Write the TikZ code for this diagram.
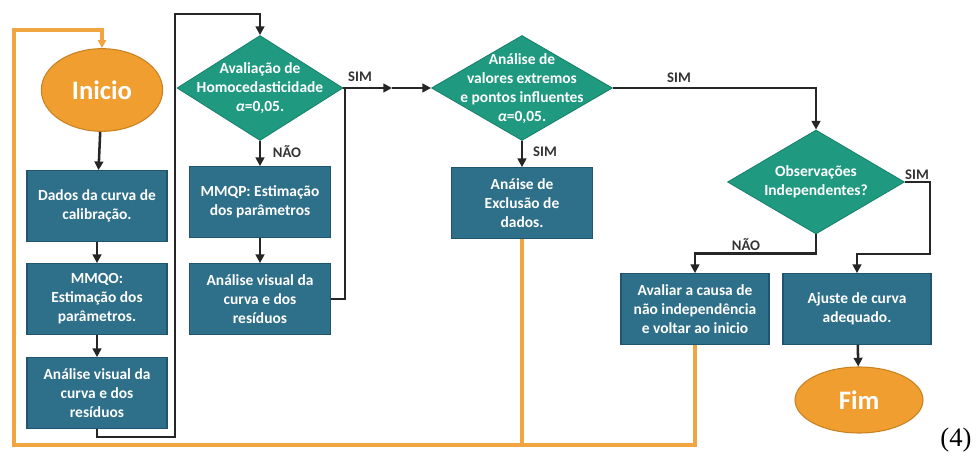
\documentclass[tikz,border=0pt]{standalone}
\usepackage{fontspec}
\setmainfont{Carlito}
\newfontfamily\serifnum{Liberation Serif}
\usetikzlibrary{shapes.geometric,arrows.meta}
\definecolor{boxblue}{HTML}{2E6F8A}
\definecolor{boxedge}{HTML}{1F5570}
\definecolor{dteal}{HTML}{1F9A80}
\definecolor{dedge}{HTML}{17806A}
\definecolor{eorange}{HTML}{F09E30}
\definecolor{eedge}{HTML}{C98222}
\definecolor{loopc}{HTML}{F0A540}
\definecolor{lbl}{HTML}{333333}

\begin{document}
\begin{tikzpicture}[x=0.75pt,y=-0.75pt]
\tikzstyle{every node}+=[font=\fontsize{11.6}{14.25}\selectfont\bfseries]
\tikzstyle{procbox}=[draw=boxedge,fill=boxblue,text=white,line width=0.8pt,minimum height=53pt,inner sep=0pt,align=center]
\tikzstyle{decision}=[diamond,draw=dedge,fill=dteal,line width=0.6pt,inner sep=0pt]
\tikzstyle{dtext}=[text=white,align=center,inner sep=0pt]
\tikzstyle{terminal}=[ellipse,draw=eedge,fill=eorange,text=white,line width=0.8pt,font=\fontsize{20}{22}\selectfont\bfseries]
\tikzstyle{flow}=[draw=black!85,line width=1.9pt,-{Triangle[length=6.5pt,width=6.5pt]}]
\tikzstyle{link}=[draw=black!85,line width=1.9pt]
\tikzstyle{back}=[draw=loopc,line width=2.6pt]
\tikzstyle{tag}=[text=lbl,font=\fontsize{11}{12}\selectfont\bfseries]

\useasboundingbox (0,0) rectangle (979,459);

% coluna 1
\node[terminal,minimum width=91pt,minimum height=62pt] (ini) at (102,90) {Inicio};
\node[procbox,minimum width=105pt] (dados) at (97,206) {Dados da curva de\\calibração.};
\node[procbox,minimum width=105pt] (mmqo) at (97,299) {MMQO:\\Estimação dos\\parâmetros.};
\node[procbox,minimum width=105pt] (vis1) at (97,393) {Análise visual da\\curva e dos\\resíduos};

% coluna 2
\node[decision,minimum width=124.5pt,minimum height=78.75pt] (homo) at (260,88) {};
\node[dtext] (homot) at (260,88) {Avaliação de\\Homocedasticidade\\\textit{α}=0,05.};
\node[procbox,minimum width=106pt] (mmqp) at (260,202) {MMQP: Estimação\\dos parâmetros};
\node[procbox,minimum width=106pt] (vis2) at (260,299) {Análise visual da\\curva e dos\\resíduos};

% coluna 3
\node[decision,minimum width=135.75pt,minimum height=78.75pt] (extr) at (522,88) {};
\node[dtext] (extrt) at (522,89) {Análise de\\valores extremos\\e pontos influentes\\\textit{α}=0,05.};
\node[procbox,minimum width=106pt] (excl) at (522,203) {Anáise de\\Exclusão de\\dados.};

% coluna 4
\node[decision,minimum width=132.75pt,minimum height=78pt] (indep) at (816,182) {};
\node[dtext] (indept) at (816,182) {Observações\\Independentes?};
\node[procbox,minimum width=111pt] (aval) at (695,309) {Avaliar a causa de\\não independência\\e voltar ao inicio};
\node[procbox,minimum width=111pt] (ajuste) at (857,309) {Ajuste de curva\\adequado.};
\node[terminal,minimum width=96pt,minimum height=49.5pt] (fim) at (859,400) {Fim};

\node[font=\serifnum\fontsize{20}{22}\selectfont] (num) at (956,440) {(4)};

\coordinate (o1) at (14,445);
\coordinate (o2) at (14,30);
\coordinate (l1) at (175,437);
\coordinate (t1) at (175,14);
\coordinate (j1) at (345,88);
\coordinate (m1) at (392,88);
\coordinate (r3) at (930,254);

% retorno ao inicio
\draw[back] (excl.south) -- (excl.south |- o1);
\draw[back,-{Triangle[length=6pt,width=6pt]}] (aval.south) |- (o1) -- (o2) -| (ini.north);

% fluxo
\draw[flow] (ini) -- (dados);
\draw[flow] (dados) -- (mmqo);
\draw[flow] (mmqo) -- (vis1);
\draw[flow] (vis1.south) |- (l1) -- (t1) -| (homo.north);
\draw[flow] (homo) -- (mmqp);
\draw[flow] (mmqp) -- (vis2);
\draw[link] (vis2.east) -| (j1);
\draw[link] (homo.east) -- (j1);
\draw[flow] (j1) -- (m1);
\draw[flow] (m1) -- (extr.west);
\draw[flow] (extr) -- (excl);
\draw[flow] (extr.east) -| (indep.north);
\draw[flow] (indep.south) -- ++(0,19) -| (aval.north);
\draw[flow] (indep.east) -| (r3) -| (ajuste.north);
\draw[flow] (ajuste) -- (fim);

% rotulos
\node[tag] (n1) at (287,152) {NÃO};
\node[tag] (s1) at (360,77) {SIM};
\node[tag] (s2) at (545,152) {SIM};
\node[tag] (s3) at (679,78) {SIM};
\node[tag] (s4) at (917,175) {SIM};
\node[tag] (n2) at (746,245) {NÃO};
\end{tikzpicture}
\end{document}
